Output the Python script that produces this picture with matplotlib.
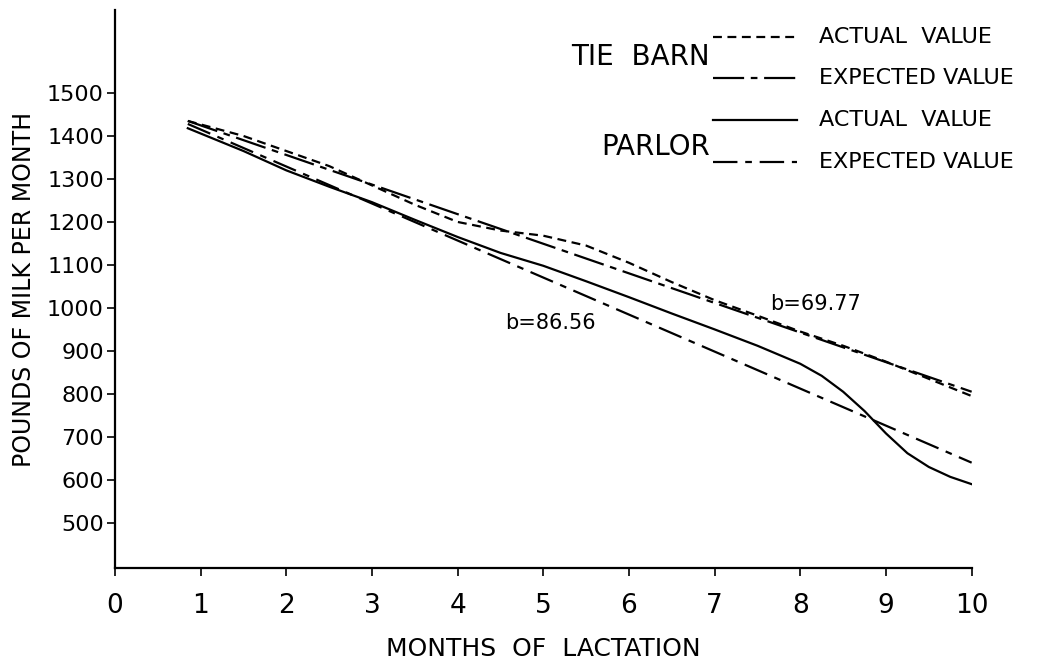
import numpy as np
import matplotlib
matplotlib.use("Agg")
import matplotlib.pyplot as plt

# data
tie_months = [0.85, 1.5, 2, 2.5, 3, 3.5, 4, 4.5, 5, 5.5, 6, 6.5, 7, 7.5, 8, 8.5, 9, 9.5, 10]
tie_actual = [1435, 1400, 1365, 1330, 1285, 1240, 1200, 1180, 1168, 1145, 1105,
              1060, 1018, 982, 945, 912, 875, 835, 795]

parlor_months = [0.85, 1.5, 2, 2.5, 3, 3.5, 4, 4.5, 5, 5.5, 6, 6.5, 7, 7.5, 8,
                 8.25, 8.5, 8.75, 9, 9.25, 9.5, 9.75, 10]
parlor_actual = [1418, 1365, 1320, 1282, 1246, 1205, 1165, 1128, 1098, 1062, 1025,
                 987, 950, 912, 870, 842, 805, 760, 708, 662, 630, 607, 590]

# fitted regression lines (end points)
fit_months = [0.85, 10]
tie_expected = [1435, 805]
parlor_expected = [1428, 640]

tie_b = "b=69.77"
parlor_b = "b=86.56"

x_ticks = list(range(0, 11))
y_ticks = list(range(500, 1600, 100))

plt.rcParams['font.family'] = ['DejaVu Sans']

fig = plt.figure(figsize=(10.55, 6.69), dpi=100)
ax = fig.add_axes([0.109, 0.151, 0.812, 0.834])

lw = 1.6
ax.plot(tie_months, tie_actual, color="black", lw=lw, linestyle=(0, (4, 2.5)))
ax.plot(fit_months, tie_expected, color="black", lw=lw, linestyle=(0, (14, 3, 3, 3)))
ax.plot(parlor_months, parlor_actual, color="black", lw=lw, linestyle="-")
ax.plot(fit_months, parlor_expected, color="black", lw=lw, linestyle=(0, (11, 3.5, 3, 3.5)))

ax.text(4.55, 965, parlor_b, fontsize=15, ha="left", va="center")
ax.text(7.65, 1008, tie_b, fontsize=15, ha="left", va="center")

ax.set_xlim(0, 10)
ax.set_ylim(395, 1693)
ax.set_xticks(x_ticks)
ax.set_xticklabels([str(t) for t in x_ticks], fontsize=19)
ax.set_yticks(y_ticks)
ax.set_yticklabels([str(t) for t in y_ticks], fontsize=16)
ax.tick_params(axis="both", direction="out", length=6, width=1.2, color="black")
ax.tick_params(axis="x", pad=12)
ax.tick_params(axis="y", pad=2)

for s in ["top", "right"]:
    ax.spines[s].set_visible(False)
for s in ["left", "bottom"]:
    ax.spines[s].set_linewidth(1.6)

ax.set_xlabel("MONTHS  OF  LACTATION", fontsize=18, labelpad=13)
ax.set_ylabel("POUNDS OF MILK PER MONTH", fontsize=17, labelpad=8)

# hand drawn key in the upper right
key_x = [0.698, 0.796]
key_rows = [(0.952, (0, (4, 2.5)), "ACTUAL  VALUE"),
            (0.878, (0, (14, 3, 3, 3)), "EXPECTED VALUE"),
            (0.803, "-", "ACTUAL  VALUE"),
            (0.728, (0, (11, 3.5, 3, 3.5)), "EXPECTED VALUE")]
for yy, ls, lab in key_rows:
    ax.plot(key_x, [yy, yy], transform=ax.transAxes, color="black", lw=lw,
            linestyle=ls, clip_on=False)
    ax.text(0.822, yy, lab, transform=ax.transAxes, fontsize=16, ha="left", va="center")

ax.text(0.694, 0.916, "TIE  BARN", transform=ax.transAxes, fontsize=20, ha="right", va="center")
ax.text(0.694, 0.754, "PARLOR", transform=ax.transAxes, fontsize=20, ha="right", va="center")

fig.savefig("out.png", dpi=100)
